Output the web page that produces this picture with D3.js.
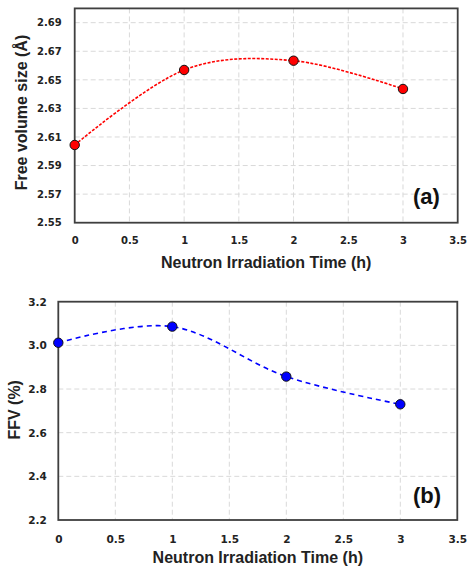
<!DOCTYPE html>
<html><head><meta charset="utf-8">
<script src="https://cdn.jsdelivr.net/npm/d3@7"></script>
<style>
html,body{margin:0;padding:0;background:#fff;}
svg{display:block;}
</style></head>
<body>
<svg id="chart" width="467" height="569"></svg>
<script>
const timesA = [0, 1, 2, 3];
const freeVolumeSize = [2.6044, 2.6569, 2.6634, 2.6436];
const timesB = [0, 1, 2, 3];
const ffv = [3.012, 3.086, 2.857, 2.730];
const xTicks = [0, 0.5, 1, 1.5, 2, 2.5, 3, 3.5];
const yTicksA = [2.55, 2.57, 2.59, 2.61, 2.63, 2.65, 2.67, 2.69];
const yTicksB = [2.2, 2.4, 2.6, 2.8, 3.0, 3.2];

const svg = d3.select("#chart");
const tickFont = "'DejaVu Sans', Verdana, sans-serif";
const titleFont = "'Liberation Sans', Arial, sans-serif";

function panel(cfg) {
  const x = d3.scaleLinear().domain([0, 3.5]).range([cfg.left, cfg.right]);
  const y = d3.scaleLinear().domain(cfg.yDomain).range([cfg.bottom, cfg.top]);
  const g = svg.append("g");
  // grid
  g.append("g").selectAll("line.vg").data(xTicks.filter(t => t > 0 && t < 3.5)).join("line")
    .attr("x1", d => x(d)).attr("x2", d => x(d)).attr("y1", cfg.top).attr("y2", cfg.bottom)
    .attr("stroke", "#d9d9d9").attr("stroke-width", 1).attr("stroke-dasharray", "5,3");
  g.append("g").selectAll("line.hg").data(cfg.yTicks.filter(t => y(t) > cfg.top + 1 && y(t) < cfg.bottom - 1)).join("line")
    .attr("x1", cfg.left).attr("x2", cfg.right).attr("y1", d => y(d)).attr("y2", d => y(d))
    .attr("stroke", "#d9d9d9").attr("stroke-width", 1).attr("stroke-dasharray", "5,3");
  // axes (labels only)
  const xa = g.append("g").attr("transform", `translate(0,${cfg.bottom})`)
    .call(d3.axisBottom(x).tickValues(xTicks).tickFormat(d3.format("~g")).tickSize(0).tickPadding(cfg.xPad));
  xa.select(".domain").remove();
  xa.selectAll("text").attr("font-family", tickFont).attr("font-weight", "bold").attr("font-size", cfg.tickSize).attr("fill", "#222");
  const ya = g.append("g").attr("transform", `translate(${cfg.left},0)`)
    .call(d3.axisLeft(y).tickValues(cfg.yTicks).tickFormat(d3.format(cfg.yFmt)).tickSize(0).tickPadding(cfg.yPad));
  ya.select(".domain").remove();
  ya.selectAll("text").attr("font-family", tickFont).attr("font-weight", "bold").attr("font-size", cfg.tickSize).attr("fill", "#222");
  // border
  g.append("rect").attr("x", cfg.left).attr("y", cfg.top).attr("width", cfg.right - cfg.left).attr("height", cfg.bottom - cfg.top)
    .attr("fill", "none").attr("stroke", "#3f3f3f").attr("stroke-width", 1.8);
  // line
  const pts = cfg.xs.map((d, i) => [d, cfg.ys[i]]);
  g.append("path").datum(pts)
    .attr("d", d3.line().x(d => x(d[0])).y(d => y(d[1])).curve(d3.curveCardinal.tension(0)))
    .attr("fill", "none").attr("stroke", cfg.color).attr("stroke-width", 1.6).attr("stroke-dasharray", cfg.dash);
  g.append("g").selectAll("circle").data(pts).join("circle")
    .attr("cx", d => x(d[0])).attr("cy", d => y(d[1])).attr("r", 4.7)
    .attr("fill", cfg.color).attr("stroke", "#111").attr("stroke-width", 1);
  // titles
  g.append("text").attr("x", (cfg.left + cfg.right) / 2 + cfg.xTitleDx).attr("y", cfg.xTitleY)
    .attr("text-anchor", "middle").attr("font-family", titleFont).attr("font-weight", "bold").attr("font-size", 16).attr("fill", "#222")
    .text("Neutron Irradiation Time (h)");
  g.append("text").attr("transform", `translate(${cfg.yTitleX},${(cfg.top + cfg.bottom) / 2 + cfg.yTitleDy}) rotate(-90)`)
    .attr("text-anchor", "middle").attr("font-family", titleFont).attr("font-weight", "bold").attr("font-size", 16).attr("fill", "#222")
    .text(cfg.yTitle);
  g.append("text").attr("x", cfg.tagX).attr("y", cfg.tagY)
    .attr("font-family", titleFont).attr("font-weight", "bold").attr("font-size", 22).attr("fill", "#111")
    .text(cfg.tag);
}

panel({
  left: 74.7, right: 457.7, top: 8.4, bottom: 222.7,
  yDomain: [2.55, 2.70], yTicks: yTicksA, yFmt: ".2f",
  xs: timesA, ys: freeVolumeSize, color: "#ff0000", dash: "3,1.5",
  tickSize: 10, xPad: 14, yPad: 13,
  xTitleDx: 0, xTitleY: 268, yTitleX: 26.5, yTitleDy: -3,
  yTitle: "Free volume size (Å)", tag: "(a)", tagX: 413, tagY: 204
});
panel({
  left: 58.3, right: 457.3, top: 301.7, bottom: 520,
  yDomain: [2.2, 3.2], yTicks: yTicksB, yFmt: ".1f",
  xs: timesB, ys: ffv, color: "#0000ff", dash: "5,4",
  tickSize: 10.5, xPad: 16, yPad: 11.5,
  xTitleDx: 0, xTitleY: 563, yTitleX: 19.5, yTitleDy: -1,
  yTitle: "FFV (%)", tag: "(b)", tagX: 413, tagY: 503
});
</script>
</body></html>
